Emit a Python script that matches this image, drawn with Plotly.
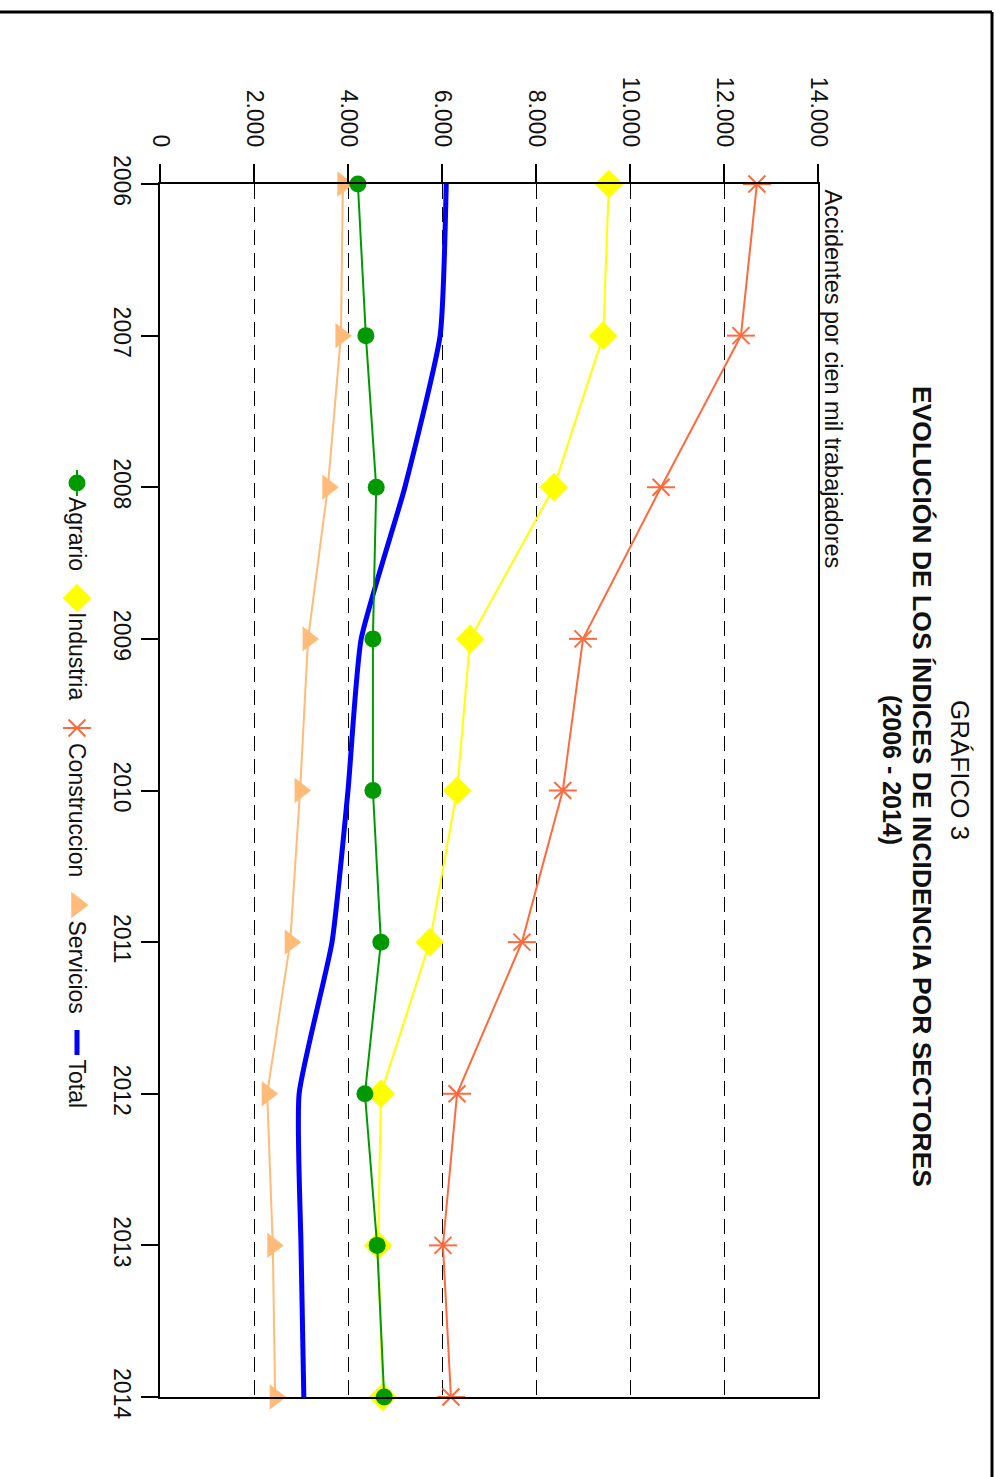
import plotly.graph_objects as go

# ---------------- data ----------------
years = [2006, 2007, 2008, 2009, 2010, 2011, 2012, 2013, 2014]
agrario = [4210, 4380, 4600, 4530, 4530, 4700, 4360, 4620, 4770]
industria = [9550, 9430, 8380, 6600, 6320, 5740, 4700, 4640, 4740]
construccion = [12700, 12360, 10660, 9000, 8570, 7700, 6320, 6020, 6190]
servicios = [3890, 3850, 3570, 3150, 2980, 2770, 2280, 2400, 2450]
total = [6090, 5960, 5210, 4280, 4000, 3660, 2960, 3000, 3060]

value_ticks = [0, 2000, 4000, 6000, 8000, 10000, 12000, 14000]
value_labels = ["0", "2.000", "4.000", "6.000", "8.000", "10.000", "12.000", "14.000"]

series_names = ["Agrario", "Industria", "Construccion", "Servicios", "Total"]
title_line1 = "GRÁFICO 3"
title_line2 = "EVOLUCIÓN DE LOS ÍNDICES DE INCIDENCIA POR SECTORES"
title_line3 = "(2006 - 2014)"
axis_title = "Accidentes por cien mil trabajadores"

# ---------------- styles ----------------
FONT = "Arial, Liberation Sans, sans-serif"
C_AGR = "#009a00"
C_IND = "#ffff00"
C_CON = "#ff6a3d"
C_SER = "#ffbb77"
C_TOT = "#0000ff"
TXT = "#111111"

W, H = 1000, 1477
PX_L, PX_R = 160, 818      # plot left/right pixels
PX_T, PX_B = 184, 1397     # plot top/bottom pixels

fig = go.Figure()

# Rotated chart: values on x, years on y (downwards)
fig.add_trace(go.Scatter(x=total, y=years, mode="lines",
                         line=dict(color=C_TOT, width=5, shape="spline", smoothing=0.5),
                         cliponaxis=False, showlegend=False))
fig.add_trace(go.Scatter(x=servicios, y=years, mode="lines+markers",
                         line=dict(color=C_SER, width=2),
                         marker=dict(symbol="triangle-right", size=22, color=C_SER),
                         cliponaxis=False, showlegend=False))
fig.add_trace(go.Scatter(x=construccion, y=years, mode="lines+markers",
                         line=dict(color=C_CON, width=2),
                         marker=dict(symbol="x-thin-open", size=17, color=C_CON,
                                     line=dict(color=C_CON, width=2)),
                         cliponaxis=False, showlegend=False))
fig.add_trace(go.Scatter(x=construccion, y=years, mode="markers",
                         marker=dict(symbol="line-ew-open", size=20, color=C_CON,
                                     line=dict(color=C_CON, width=2)),
                         cliponaxis=False, showlegend=False))
fig.add_trace(go.Scatter(x=industria, y=years, mode="lines+markers",
                         line=dict(color=C_IND, width=2),
                         marker=dict(symbol="diamond", size=22, color=C_IND),
                         cliponaxis=False, showlegend=False))
fig.add_trace(go.Scatter(x=agrario, y=years, mode="lines+markers",
                         line=dict(color=C_AGR, width=2),
                         marker=dict(symbol="circle", size=17, color=C_AGR),
                         cliponaxis=False, showlegend=False))

# ---------------- custom rotated legend (pixel overlay axes) ----------------
LX = 77
leg_marker_y = [483, 598, 728, 905]
leg_text_y = [495, 610, 741, 918, 1057]
fig.add_trace(go.Scatter(x=[LX, LX], y=[470, 496], mode="lines",
                         line=dict(color=C_AGR, width=2), xaxis="x2", yaxis="y2",
                         showlegend=False, hoverinfo="skip"))
fig.add_trace(go.Scatter(x=[LX], y=[leg_marker_y[0]], mode="markers",
                         marker=dict(symbol="circle", size=17, color=C_AGR),
                         xaxis="x2", yaxis="y2", showlegend=False, hoverinfo="skip"))
fig.add_trace(go.Scatter(x=[LX], y=[leg_marker_y[1]], mode="markers",
                         marker=dict(symbol="diamond", size=22, color=C_IND),
                         xaxis="x2", yaxis="y2", showlegend=False, hoverinfo="skip"))
fig.add_trace(go.Scatter(x=[LX], y=[leg_marker_y[2]], mode="markers",
                         marker=dict(symbol="x-thin-open", size=17, color=C_CON,
                                     line=dict(color=C_CON, width=2)),
                         xaxis="x2", yaxis="y2", showlegend=False, hoverinfo="skip"))
fig.add_trace(go.Scatter(x=[LX], y=[leg_marker_y[2]], mode="markers",
                         marker=dict(symbol="line-ew-open", size=20, color=C_CON,
                                     line=dict(color=C_CON, width=2)),
                         xaxis="x2", yaxis="y2", showlegend=False, hoverinfo="skip"))
fig.add_trace(go.Scatter(x=[LX], y=[leg_marker_y[3]], mode="markers",
                         marker=dict(symbol="triangle-right", size=23, color=C_SER),
                         xaxis="x2", yaxis="y2", showlegend=False, hoverinfo="skip"))
fig.add_trace(go.Scatter(x=[LX, LX], y=[1030, 1055], mode="lines",
                         line=dict(color=C_TOT, width=5),
                         xaxis="x2", yaxis="y2", showlegend=False, hoverinfo="skip"))

annotations = []
for name, ty in zip(series_names, leg_text_y):
    annotations.append(dict(text=name, x=LX, y=ty, xref="x2", yref="y2",
                            xanchor="center", yanchor="top", textangle=90,
                            showarrow=False, font=dict(family=FONT, size=23, color=TXT)))

# titles (rotated)
annotations.append(dict(text=title_line1, x=960 / W, y=1 - 770 / H, xref="paper", yref="paper",
                        xanchor="center", yanchor="middle", textangle=90, showarrow=False,
                        font=dict(family=FONT, size=26, color=TXT)))
annotations.append(dict(text="<b>" + title_line2 + "</b>", x=922 / W, y=1 - 786 / H,
                        xref="paper", yref="paper", xanchor="center", yanchor="middle",
                        textangle=90, showarrow=False, font=dict(family=FONT, size=26.5, color=TXT)))
annotations.append(dict(text="<b>" + title_line3 + "</b>", x=892 / W, y=1 - 770 / H,
                        xref="paper", yref="paper", xanchor="center", yanchor="middle",
                        textangle=90, showarrow=False, font=dict(family=FONT, size=25, color=TXT)))
annotations.append(dict(text=axis_title, x=833 / W, y=1 - 187 / H, xref="paper", yref="paper",
                        xanchor="center", yanchor="top", textangle=90, showarrow=False,
                        font=dict(family=FONT, size=23.5, color=TXT)))

shapes = [
    # page frame (top and right edges)
    dict(type="line", xref="paper", yref="paper", x0=0, x1=992 / W, y0=1 - 12 / H, y1=1 - 12 / H,
         line=dict(color="black", width=3)),
    dict(type="line", xref="paper", yref="paper", x0=992 / W, x1=992 / W, y0=0, y1=1 - 12 / H,
         line=dict(color="black", width=3)),
]

fig.update_layout(
    template="none",
    width=W, height=H,
    margin=dict(l=0, r=0, t=0, b=0, pad=0, autoexpand=False),
    paper_bgcolor="white", plot_bgcolor="rgba(0,0,0,0)",
    font=dict(family=FONT, size=23, color=TXT),
    showlegend=False,
    annotations=annotations,
    shapes=shapes,
    xaxis=dict(domain=[PX_L / W, PX_R / W], range=[0, 14000], side="top",
               tickvals=value_ticks, ticktext=value_labels, tickangle=90,
               ticks="outside", ticklen=18, tickwidth=1.5, tickcolor="black",
               ticklabelstandoff=9,
               showgrid=True, gridcolor="black", gridwidth=1.4, griddash="15px,8px",
               showline=True, mirror=True, linecolor="black", linewidth=1.5,
               zeroline=False, tickfont=dict(size=23, color=TXT), anchor="y",
               automargin=False),
    yaxis=dict(domain=[1 - PX_B / H, 1 - PX_T / H], range=[2014, 2006],
               tickvals=years, ticktext=[str(y) for y in years], tickangle=90,
               ticks="outside", ticklen=17, tickwidth=1.5, tickcolor="black",
               showgrid=False, showline=True, mirror=True, linecolor="black", linewidth=1.5,
               zeroline=False, tickfont=dict(size=23, color=TXT), anchor="x",
               automargin=False),
    xaxis2=dict(domain=[0, 1], range=[0, W], visible=False, anchor="y2", fixedrange=True,
                automargin=False),
    yaxis2=dict(domain=[0, 1], range=[H, 0], visible=False, anchor="x2", fixedrange=True,
                automargin=False),
)

fig.write_html("out.html", config={"displayModeBar": False},
               post_script="document.body.style.margin='0';document.body.style.overflow='hidden';")
